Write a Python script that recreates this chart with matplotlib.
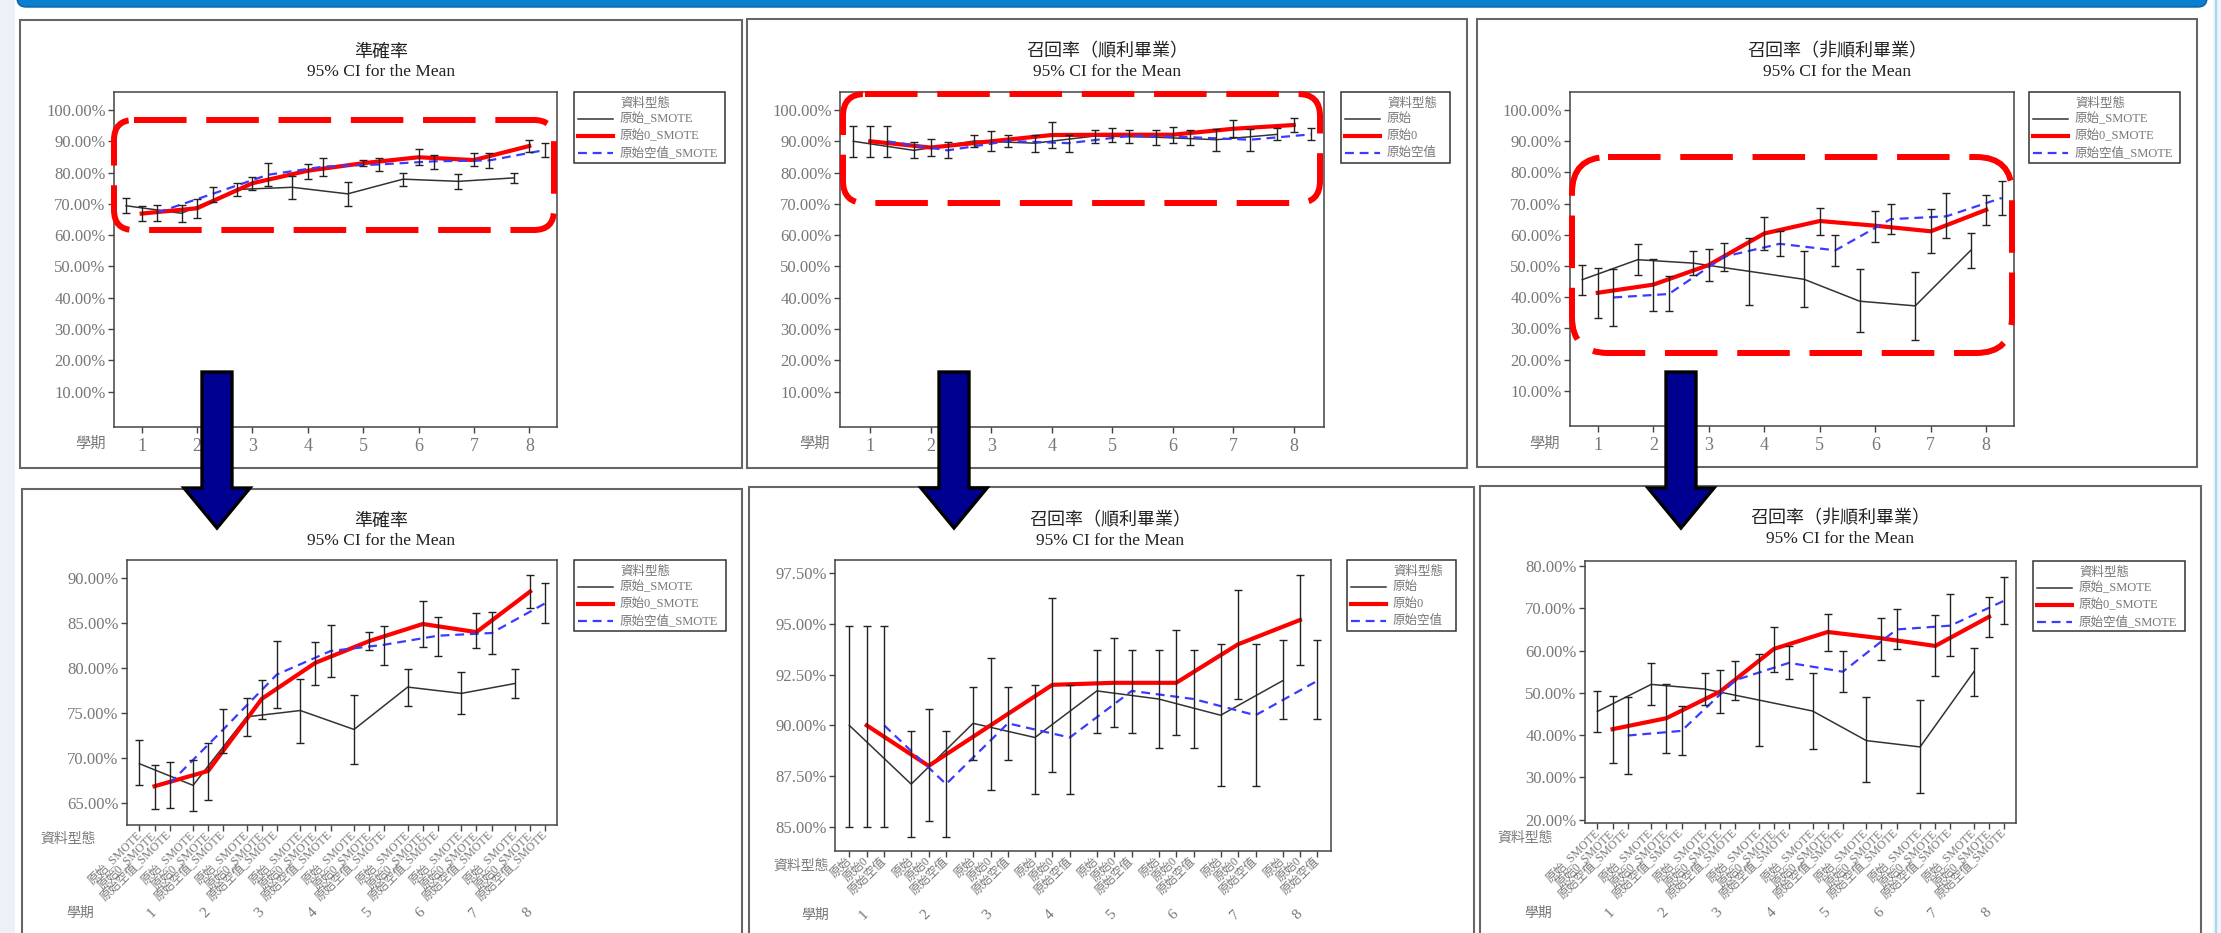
import numpy as np
import matplotlib
matplotlib.use('Agg')
import matplotlib.pyplot as plt
from matplotlib.patches import Rectangle, FancyBboxPatch, Polygon
from matplotlib.lines import Line2D
from matplotlib.ticker import FuncFormatter
from matplotlib.transforms import blended_transform_factory

plt.rcParams['font.family'] = ['Liberation Serif', 'Noto Sans CJK TC']

W, H = 2221, 933

terms = [1, 2, 3, 4, 5, 6, 7, 8]

# 準確率
acc_labels = ['原始_SMOTE', '原始0_SMOTE', '原始空值_SMOTE']
acc_mean = [[69.4, 67.0, 74.6, 75.3, 73.2, 77.9, 77.2, 78.3],
            [66.9, 68.6, 76.6, 80.6, 83.0, 84.9, 84.0, 88.5],
            [67.2, 73.2, 79.3, 81.9, 82.6, 83.6, 83.9, 87.2]]
acc_low = [[67.0, 64.2, 72.5, 71.7, 69.4, 75.8, 74.9, 76.7],
           [64.4, 65.4, 74.4, 78.1, 82.0, 82.3, 82.2, 86.7],
           [64.5, 70.6, 75.6, 79.0, 80.4, 81.3, 81.6, 85.0]]
acc_high = [[72.0, 69.8, 76.7, 78.8, 77.0, 79.9, 79.6, 79.9],
            [69.3, 71.7, 78.7, 82.9, 84.0, 87.4, 86.1, 90.3],
            [69.6, 75.5, 83.0, 84.8, 84.7, 85.7, 86.2, 89.4]]

# 召回率(順利畢業)
rs_labels = ['原始', '原始0', '原始空值']
rs_mean = [[90.0, 87.1, 90.1, 89.4, 91.7, 91.3, 90.5, 92.2],
           [90.0, 88.0, 90.0, 92.0, 92.1, 92.1, 94.0, 95.2],
           [90.0, 87.1, 90.1, 89.4, 91.7, 91.3, 90.5, 92.2]]
rs_low = [[85.0, 84.5, 88.3, 86.6, 89.6, 88.9, 87.0, 90.3],
          [85.0, 85.3, 86.8, 87.7, 89.9, 89.5, 91.3, 93.0],
          [85.0, 84.5, 88.3, 86.6, 89.6, 88.9, 87.0, 90.3]]
rs_high = [[94.9, 89.7, 91.9, 92.0, 93.7, 93.7, 94.0, 94.2],
           [94.9, 90.8, 93.3, 96.3, 94.3, 94.7, 96.7, 97.4],
           [94.9, 89.7, 91.9, 92.0, 93.7, 93.7, 94.0, 94.2]]

# 召回率(非順利畢業)
rn_labels = ['原始_SMOTE', '原始0_SMOTE', '原始空值_SMOTE']
rn_mean = [[45.6, 52.0, 50.9, 48.3, 45.7, 38.7, 37.2, 55.0],
           [41.4, 44.0, 50.3, 60.4, 64.4, 62.9, 61.1, 68.0],
           [39.9, 41.0, 53.0, 57.1, 55.0, 65.0, 65.9, 71.8]]
rn_low = [[40.7, 47.1, 47.1, 37.5, 36.7, 28.8, 26.3, 49.3],
          [33.4, 35.7, 45.3, 55.0, 60.0, 57.8, 54.0, 63.1],
          [30.9, 35.4, 48.3, 53.2, 50.1, 60.3, 58.8, 66.2]]
rn_high = [[50.4, 57.0, 54.8, 59.1, 54.7, 48.9, 48.2, 60.7],
           [49.3, 52.1, 55.4, 65.6, 68.7, 67.7, 68.4, 72.7],
           [49.1, 46.8, 57.5, 61.1, 60.0, 69.9, 73.5, 77.3]]

GREY = '#777777'
DARK = '#444444'
STEP = 3.55
series_style = [dict(color='#333333', lw=1.1),
                dict(color='#ff0000', lw=3.0),
                dict(color='#3b3bff', lw=1.6, ls=(0, (4, 2.6)))]

fig = plt.figure(figsize=(W / 100, H / 100), dpi=100)
fig.patch.set_facecolor('white')

bg = fig.add_axes([0, 0, 1, 1], zorder=-1)
ov = fig.add_axes([0, 0, 1, 1], zorder=10)
for a in (bg, ov):
    a.set_xlim(0, W)
    a.set_ylim(H, 0)
    a.axis('off')


def pax(x0, y0, x1, y1):
    return fig.add_axes([x0 / W, 1 - y1 / H, (x1 - x0) / W, (y1 - y0) / H])


# page furniture
bg.add_patch(Rectangle((0, 0), 15, H, fc='#eef0f8', ec='none'))
bg.add_patch(Rectangle((2213, 0), 8, H, fc='#edf4fb', ec='none'))
bg.plot([2216, 2216], [0, H], color='#a6d8f2', lw=1.6)
bg.add_patch(FancyBboxPatch((17, -20), 2190, 27, boxstyle='round,pad=0,rounding_size=9',
                            fc='#0a7fd0', ec='#0563a8', lw=1))

panels = [(20, 20, 742, 468), (747, 19, 1467, 468), (1477, 19, 2197, 467),
          (22, 489, 742, 945), (749, 487, 1474, 945), (1480, 486, 2201, 945)]
for x0, y0, x1, y1 in panels:
    bg.add_patch(Rectangle((x0, y0), x1 - x0, y1 - y0, fc='white', ec='#666666', lw=1.5))


def style_axes(ax):
    for s in ax.spines.values():
        s.set_color(DARK)
        s.set_linewidth(1.1)
    ax.tick_params(direction='out', length=4, width=1.0, color=DARK, labelcolor=GREY,
                   labelsize=12, pad=2)
    ax.yaxis.set_major_formatter(FuncFormatter(lambda v, _: f'{v:.2f}%'))


def plot_series(ax, xs, mean, low, high):
    for i in range(3):
        m = np.array(mean[i])
        err = [m - np.array(low[i]), np.array(high[i]) - m]
        ax.plot(xs[i], m, zorder=2, **series_style[i])
        ax.errorbar(xs[i], m, yerr=err, fmt='none', ecolor='#222222',
                    elinewidth=1.0, capsize=3, capthick=1.0, zorder=3)


def top_chart(box, mean, low, high):
    ax = pax(*box)
    offs = [-0.28, 0.0, 0.28]
    xs = [np.array(terms) + o for o in offs]
    plot_series(ax, xs, mean, low, high)
    ax.set_xlim(0.5, 8.5)
    ax.set_ylim(-1.3, 105.75)
    ax.set_xticks(terms)
    ax.set_yticks(np.arange(10, 101, 10))
    style_axes(ax)
    ax.tick_params(axis='x', labelsize=13, pad=4)
    return ax


def bottom_chart(box, mean, low, high, labels, ylim, yticks, term_y):
    ax = pax(*box)
    xs = [np.arange(8) * STEP + k for k in range(3)]
    plot_series(ax, xs, mean, low, high)
    ax.set_xlim(-0.82, 7 * STEP + 2 + 0.78)
    ax.set_ylim(*ylim)
    ax.set_yticks(yticks)
    style_axes(ax)
    ticks = [g * STEP + k for g in range(8) for k in range(3)]
    ax.set_xticks(ticks)
    ax.set_xticklabels(labels * 8, rotation=45, ha='right', va='center',
                       rotation_mode='anchor', fontsize=8.6, color=GREY)
    trans = blended_transform_factory(ax.transData, ov.transData)
    for g, t in enumerate(terms):
        ax.text(g * STEP + 0.85, term_y, str(t), transform=trans, rotation=45,
                ha='center', va='center', fontsize=11, color=GREY)
    return ax


def legend(x0, y0, x1, y1, labels):
    ov.add_patch(Rectangle((x0, y0), x1 - x0, y1 - y0, fc='white', ec='#333333', lw=1.1))
    ov.text(x0 + 46, y0 + 12, '資料型態', ha='left', va='center', fontsize=9, color=GREY)
    for i, lab in enumerate(labels):
        yy = y0 + 27 + 17 * i
        ov.add_line(Line2D([x0 + 4, x0 + 39], [yy, yy], **series_style[i]))
        ov.text(x0 + 46, yy, lab, ha='left', va='center', fontsize=9, color=GREY)


def titles(cx, y, name):
    ov.text(cx, y, name, ha='center', va='center', fontsize=13, color='#222222')
    ov.text(cx, y + 20, '95% CI for the Mean', ha='center', va='center', fontsize=12.5,
            color='#222222')


# top row
top_chart((114, 92, 557, 427), acc_mean, acc_low, acc_high)
top_chart((840, 92, 1324, 427), rs_mean, rs_low, rs_high)
top_chart((1570, 92, 2014, 426), rn_mean, rn_low, rn_high)

titles(381, 52, '準確率')
titles(1107, 52, '召回率（順利畢業）')
titles(1837, 52, '召回率（非順利畢業）')
legend(574, 92, 725, 163, acc_labels)
legend(1341, 92, 1450, 163, rs_labels)
legend(2029, 92, 2180, 163, rn_labels)
for x in (90, 814, 1544):
    ov.text(x, 444, '學期', ha='center', va='center', fontsize=11, color=GREY)

# bottom row
bottom_chart((127, 560, 557, 825), acc_mean, acc_low, acc_high, acc_labels,
             (62.6, 92.0), np.arange(65, 91, 5), 913)
bottom_chart((835, 560, 1331, 851), rs_mean, rs_low, rs_high, rs_labels,
             (83.8, 98.16), np.arange(85, 97.6, 2.5), 915)
bottom_chart((1585, 561, 2016, 823), rn_mean, rn_low, rn_high, rn_labels,
             (19.2, 81.2), np.arange(20, 81, 10), 913)

titles(381, 521, '準確率')
titles(1110, 521, '召回率（順利畢業）')
titles(1840, 519, '召回率（非順利畢業）')
legend(574, 560, 726, 631, acc_labels)
legend(1347, 560, 1456, 631, rs_labels)
legend(2033, 561, 2185, 631, rn_labels)
for x, y in ((68, 839), (801, 866), (1525, 838)):
    ov.text(x, y, '資料型態', ha='center', va='center', fontsize=10, color=GREY)
for x, y in ((80, 913), (815, 915), (1538, 913)):
    ov.text(x, y, '學期', ha='center', va='center', fontsize=10, color=GREY)

# highlight boxes around the top-row curves
for x0, y0, x1, y1, r in ((114, 120, 554, 230, 20), (843, 94, 1320, 203, 22),
                          (1572, 157, 2012, 353, 36)):
    ov.add_patch(FancyBboxPatch((x0, y0), x1 - x0, y1 - y0,
                                boxstyle=f'round,pad=0,rounding_size={r}',
                                fc='none', ec='#ff0000', lw=4.3, ls=(0, (8.8, 3.3))))

# arrows from the full-range chart to the zoomed chart
for cx in (217, 954, 1681):
    pts = [(cx - 15, 372), (cx + 15, 372), (cx + 15, 488), (cx + 33, 488),
           (cx, 528), (cx - 33, 488), (cx - 15, 488)]
    ov.add_patch(Polygon(pts, closed=True, fc='#000090', ec='black', lw=2.4,
                         joinstyle='miter'))

fig.savefig('out.png', dpi=100)
